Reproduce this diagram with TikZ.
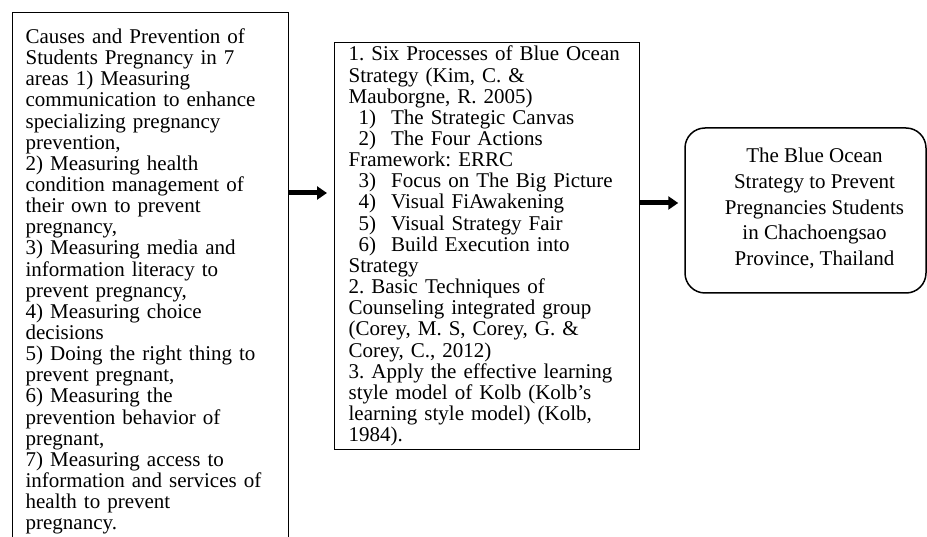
\documentclass[tikz,border=0pt]{standalone}
\usepackage{fontspec}
\setmainfont{Liberation Serif}
\usetikzlibrary{arrows.meta}

\newcommand{\processitem}[2]{\hspace*{10pt}#1\hspace{15pt}#2}

\begin{document}
\frenchspacing
\begin{tikzpicture}[x=1pt, y=1pt,
  every node/.style={font=\fontsize{21}{21.15}\selectfont},
  box/.style={draw, line width=1.3pt, anchor=north west, align=left},
  goalbox/.style={draw, line width=1.5pt, rounded corners=20pt},
  flow/.style={-{Triangle[length=10pt,width=13pt]}, line width=5pt}]
\clip (0,0) rectangle (927,-537);
% input box, runs off the page at the bottom
\node[box, text width=250pt, inner xsep=13pt, inner ysep=16pt] (causes) at (12,-12) {%
Causes and Prevention of\\
Students Pregnancy in 7\\
areas 1) Measuring\\
communication to enhance\\
specializing pregnancy\\
prevention,\\
2) Measuring health\\
condition management of\\
their own to prevent\\
pregnancy,\\
3) Measuring media and\\
information literacy to\\
prevent pregnancy,\\
4) Measuring choice\\
decisions\\
5) Doing the right thing to\\
prevent pregnant,\\
6) Measuring the\\
prevention behavior of\\
pregnant,\\
7) Measuring access to\\
information and services of\\
health to prevent\\
pregnancy.};
% process box
\node[box, text width=277pt, inner xsep=14pt, inner ysep=3.5pt] (method) at (334,-42) {%
1. Six Processes of Blue Ocean\\
Strategy (Kim, C. \&\\
Mauborgne, R. 2005)\\
\processitem{1)}{The Strategic Canvas}\\
\processitem{2)}{The Four Actions}\\
Framework: ERRC\\
\processitem{3)}{Focus on The Big Picture}\\
\processitem{4)}{Visual FiAwakening}\\
\processitem{5)}{Visual Strategy Fair}\\
\processitem{6)}{Build Execution into}\\
Strategy\\
2. Basic Techniques of\\
Counseling integrated group\\
(Corey, M. S, Corey, G. \&\\
Corey, C., 2012)\\
3. Apply the effective learning\\
style model of Kolb (Kolb's\\
learning style model) (Kolb,\\
1984).};
% output box
\node[goalbox, minimum width=241pt, minimum height=165pt] (goal) at (805.5,-210.5) {};
\node[align=center, font=\fontsize{21}{25.8}\selectfont] (goaltext) at (814.5,-208.5) {%
The Blue Ocean\\
Strategy to Prevent\\
Pregnancies Students\\
in Chachoengsao\\
Province, Thailand};
% arrows
\coordinate (a1) at (0,-193);
\coordinate (a2) at (0,-203);
\draw[flow, shorten >=7pt] (causes.east |- a1) -- (method.west |- a1);
\draw[flow, shorten >=6pt] (method.east |- a2) -- (goal.west |- a2);
\end{tikzpicture}
\end{document}
